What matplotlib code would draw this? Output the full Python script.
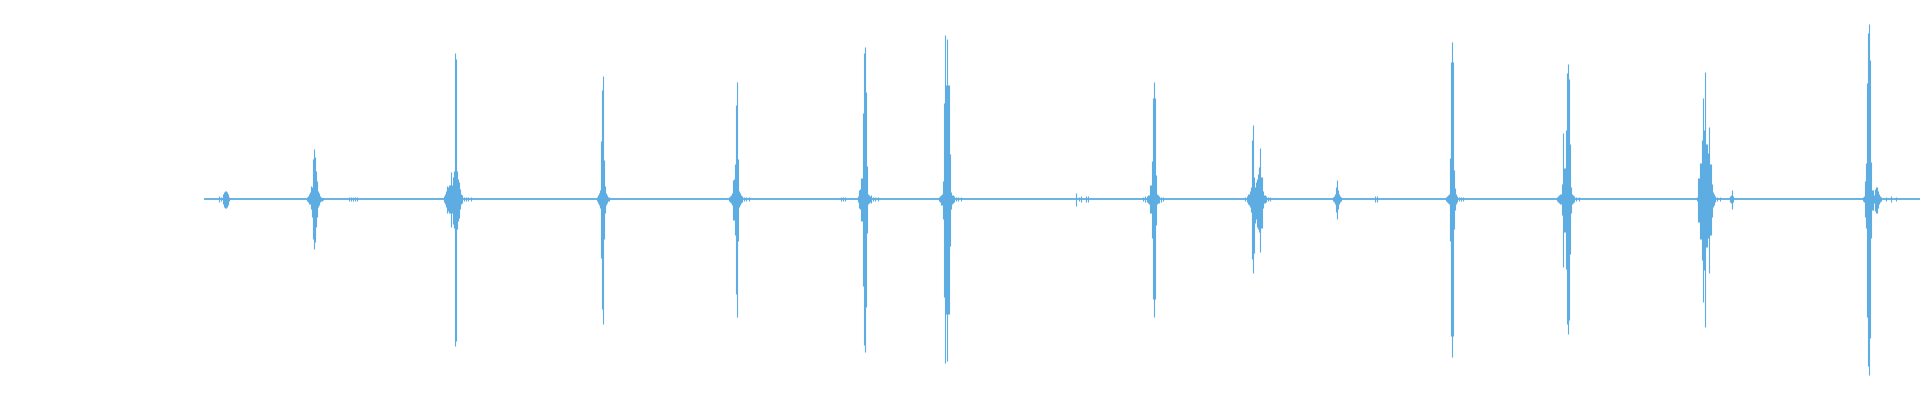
import matplotlib
matplotlib.use("Agg")
import matplotlib.pyplot as plt
import numpy as np

# Waveform envelope: column (time index), positive peak, negative peak
# amplitudes in pixels of a 200-px half height
col = [
    218, 220, 222, 223, 224, 225, 226, 227, 228,
    306, 307, 308, 309, 310, 311, 312, 313, 314, 315, 316, 317, 318, 319, 320, 321, 322,
    348, 350, 352, 354, 356,
    443, 444, 445, 446, 447, 448, 449, 450, 451, 452, 453, 454, 455, 456, 457, 458, 459, 460, 461, 463, 465, 467, 470,
    596, 597, 598, 599, 600, 601, 602, 603, 604, 605, 606, 607, 608,
    728, 729, 730, 731, 732, 733, 734, 735, 736, 737, 738, 739, 740, 741, 743, 745, 748,
    840, 842, 844,
    857, 858, 859, 860, 861, 862, 863, 864, 865, 866, 867, 868, 869, 870, 872, 874, 877,
    938, 939, 940, 941, 942, 943, 944, 945, 946, 947, 948, 949, 950, 951, 952, 953, 955, 957, 960,
    1075, 1078, 1080, 1085, 1087,
    1142, 1144, 1146, 1147, 1148, 1149, 1150, 1151, 1152, 1153, 1154, 1155, 1156, 1157, 1158, 1160, 1162,
    1244, 1246, 1247, 1248, 1249, 1250, 1251, 1252, 1253, 1254, 1255, 1256, 1257, 1258, 1259, 1260, 1261,
    1262, 1263, 1264, 1265, 1267, 1269,
    1332, 1333, 1334, 1335, 1336, 1337, 1338, 1339, 1340, 1374, 1376,
    1445, 1446, 1447, 1448, 1449, 1450, 1451, 1452, 1453, 1454, 1455, 1456, 1458, 1460, 1462,
    1556, 1557, 1558, 1559, 1560, 1561, 1562, 1563, 1564, 1565, 1566, 1567, 1568, 1569, 1570, 1571, 1572,
    1573, 1575, 1578,
    1696, 1697, 1698, 1699, 1700, 1701, 1702, 1703, 1704, 1705, 1706, 1707, 1708, 1709, 1710, 1711, 1712,
    1713, 1714, 1716, 1719, 1729, 1730, 1731, 1732,
    1862, 1863, 1864, 1865, 1866, 1867, 1868, 1869, 1870, 1871, 1872, 1873, 1874, 1875, 1876, 1877, 1878,
    1879, 1880, 1885, 1890, 1895,
]
peak_hi = [
    3, 2, 5, 7, 8, 8, 7, 5, 2,
    2, 3, 5, 7, 13, 12, 40, 50, 42, 28, 18, 8, 6, 3, 2, 1, 1,
    2, 2, 2, 2, 2,
    3, 5, 8, 13, 12, 14, 14, 27, 14, 22, 28, 146, 140, 28, 20, 17, 10, 5, 4, 2, 2, 2, 2,
    2, 4, 6, 9, 58, 109, 123, 39, 13, 6, 4, 2, 2,
    2, 3, 4, 6, 19, 20, 35, 94, 117, 40, 8, 6, 4, 3, 2, 2, 2,
    2, 2, 2,
    3, 9, 10, 21, 21, 86, 146, 152, 107, 33, 5, 4, 3, 4, 2, 2, 2,
    2, 3, 4, 5, 18, 96, 164, 114, 160, 114, 114, 45, 7, 4, 4, 3, 2, 2, 2,
    6, 2, 3, 3, 3,
    2, 3, 3, 4, 4, 14, 14, 38, 101, 117, 101, 24, 5, 4, 3, 2, 2,
    2, 3, 5, 5, 8, 12, 59, 74, 22, 12, 17, 20, 25, 32, 51, 22, 22,
    8, 4, 4, 3, 2, 2,
    2, 3, 5, 12, 19, 9, 5, 3, 2, 3, 3,
    2, 3, 4, 5, 41, 137, 157, 137, 29, 11, 5, 3, 2, 2, 2,
    2, 3, 4, 5, 5, 15, 66, 31, 31, 69, 126, 135, 120, 55, 12, 5, 4,
    3, 2, 2,
    2, 21, 21, 36, 36, 59, 101, 69, 127, 55, 55, 46, 72, 35, 35, 15, 7,
    5, 3, 2, 2, 3, 4, 9, 3,
    2, 3, 18, 36, 116, 166, 175, 139, 37, 9, 9, 4, 10, 12, 12, 8, 5,
    3, 2, 2, 3, 2,
]
peak_lo = [
    3, 2, 5, 8, 9, 9, 8, 6, 2,
    2, 3, 5, 5, 10, 18, 40, 50, 43, 28, 18, 8, 6, 3, 2, 2, 1,
    2, 2, 2, 2, 2,
    3, 5, 8, 14, 12, 14, 14, 28, 14, 25, 29, 147, 142, 30, 22, 19, 10, 5, 4, 2, 2, 2, 2,
    2, 4, 6, 9, 59, 110, 125, 40, 14, 6, 4, 2, 2,
    2, 3, 4, 6, 21, 21, 36, 95, 118, 42, 8, 6, 4, 3, 2, 2, 2,
    2, 2, 2,
    3, 9, 10, 22, 22, 87, 146, 153, 108, 34, 5, 4, 3, 4, 2, 2, 2,
    2, 3, 6, 6, 20, 98, 164, 115, 162, 115, 115, 47, 10, 5, 4, 3, 2, 2, 2,
    7, 2, 3, 3, 3,
    2, 3, 3, 4, 5, 14, 14, 39, 100, 118, 100, 26, 5, 4, 4, 3, 2,
    2, 3, 5, 6, 8, 13, 60, 74, 54, 24, 20, 28, 30, 33, 53, 29, 29,
    9, 4, 4, 3, 2, 2,
    2, 3, 5, 13, 20, 10, 5, 3, 2, 3, 3,
    2, 3, 4, 5, 42, 137, 158, 137, 30, 11, 5, 3, 2, 2, 2,
    2, 3, 4, 5, 5, 16, 68, 33, 33, 70, 125, 135, 121, 55, 14, 5, 4,
    3, 2, 2,
    2, 23, 23, 40, 40, 61, 103, 71, 128, 48, 48, 39, 74, 36, 36, 18, 8,
    6, 3, 2, 2, 3, 4, 10, 3,
    2, 3, 18, 29, 118, 167, 176, 139, 39, 11, 11, 4, 12, 14, 14, 9, 5,
    3, 2, 2, 3, 2,
]
signal_start = 204
signal_end = 1920

COLOR = "#5dade2"
W, H, DPI = 1920, 400, 100

fig = plt.figure(figsize=(W / DPI, H / DPI), dpi=DPI)
ax = fig.add_axes([0, 0, 1, 1])
ax.set_xlim(0, W)
ax.set_ylim(-1.005, 0.995)
ax.axis("off")

x = np.asarray(col, dtype=float) + 0.5
hi = np.asarray(peak_hi, dtype=float) / 200.0
lo = np.asarray(peak_lo, dtype=float) / 200.0

# baseline (quiet signal)
ax.hlines(0, signal_start, signal_end, colors=COLOR, linewidth=1.3)
ax.vlines(x, -lo, hi, colors=COLOR, linewidth=1.0 * 72 / DPI * 1.1)

fig.savefig("out.png", dpi=DPI, facecolor="white")
